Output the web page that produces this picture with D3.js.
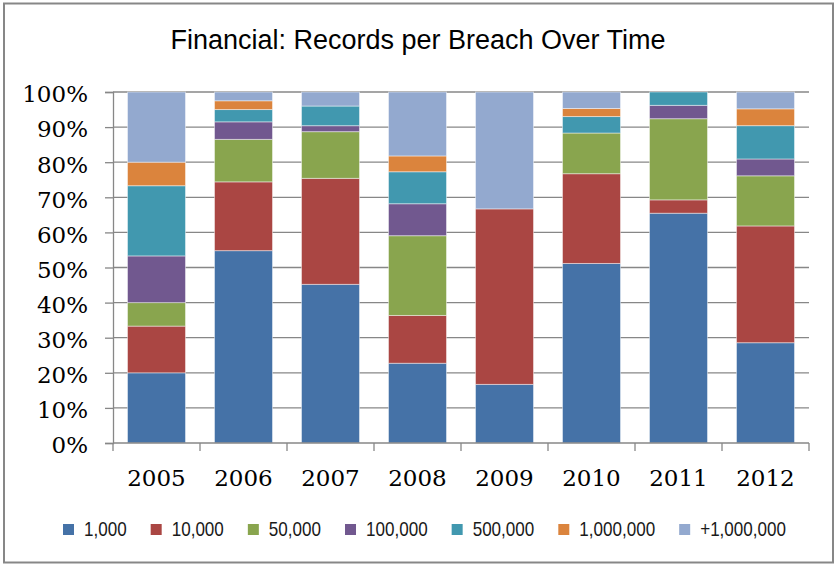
<!DOCTYPE html>
<meta charset="utf-8">
<script src="https://d3js.org/d3.v7.min.js"></script>
<style>
  body { margin: 0; background: #fff; }
</style>
<svg id="chart" width="838" height="564"></svg>
<script>

    // data: share of breaches per records bucket, percent per year
    const years = ["2005", "2006", "2007", "2008", "2009", "2010", "2011", "2012"];
    const buckets = ["1,000", "10,000", "50,000", "100,000", "500,000", "1,000,000", "+1,000,000"];
    const colors = ["#4572A7", "#AA4643", "#89A54E", "#71588F", "#4198AF", "#DB843D", "#93A9CF"];

    const r1k   = [20.0, 54.8, 45.2, 22.7, 16.7, 51.2, 65.4, 28.6];
    const r10k  = [13.3, 19.6, 30.2, 13.6, 50.0, 25.6,  3.8, 33.3];
    const r50k  = [ 6.7, 12.1, 13.3, 22.7,  0.0, 11.6, 23.1, 14.3];
    const r100k = [13.3,  5.0,  1.7,  9.1,  0.0,  0.0,  3.8,  4.8];
    const r500k = [20.0,  3.5,  5.6,  9.1,  0.0,  4.7,  3.8,  9.5];
    const r1m   = [ 6.7,  2.5,  0.0,  4.5,  0.0,  2.3,  0.0,  4.8];
    const rOver = [20.0,  2.5,  4.0, 18.2, 33.3,  4.7,  0.0,  4.8];

    const yTicks = [0, 0.1, 0.2, 0.3, 0.4, 0.5, 0.6, 0.7, 0.8, 0.9, 1];

    const series = [r1k, r10k, r50k, r100k, r500k, r1m, rOver];

    const rows = years.map((y, i) => {
        const row = { year: y };
        buckets.forEach((b, j) => row[b] = series[j][i]);
        return row;
    });

    const svg = d3.select("#chart"),
        width = +svg.attr("width"),
        height = +svg.attr("height");

    const plotLeft = 113, plotRight = 809, plotTop = 92, plotBottom = 443;
    const axisColor = "#878787";

    // chart border
    svg.append("rect")
        .attr("x", 4).attr("y", 3.5)
        .attr("width", 829).attr("height", 559)
        .attr("fill", "#fff")
        .attr("stroke", axisColor)
        .attr("stroke-width", 2);

    svg.append("text")
        .attr("x", 418).attr("y", 49)
        .attr("text-anchor", "middle")
        .style("font-family", "'Liberation Sans', Arial, sans-serif")
        .style("font-size", "27px")
        .attr("fill", "#000")
        .text("Financial: Records per Breach Over Time");

    const x = d3.scaleBand()
        .domain(years)
        .range([plotLeft, plotRight])
        .paddingInner(1 / 3)
        .paddingOuter(1 / 6);

    const y = d3.scaleLinear()
        .domain([0, 1])
        .range([plotBottom, plotTop]);

    // gridlines
    svg.append("g")
        .selectAll("line")
        .data(yTicks.slice(1))
        .enter().append("line")
            .attr("x1", plotLeft).attr("x2", plotRight)
            .attr("y1", d => y(d)).attr("y2", d => y(d))
            .attr("stroke", axisColor)
            .attr("stroke-width", 1.3);

    const stacked = d3.stack()
        .keys(buckets)
        .offset(d3.stackOffsetExpand)(rows);

    svg.append("g")
        .selectAll("g")
        .data(stacked)
        .enter().append("g")
            .attr("fill", (d, i) => colors[i])
        .selectAll("rect")
        .data(d => d.filter(p => p[1] - p[0] > 0))
        .enter().append("rect")
            .attr("x", d => x(d.data.year))
            .attr("width", x.bandwidth())
            .attr("y", d => y(d[1]))
            .attr("height", d => y(d[0]) - y(d[1]))
            .attr("stroke", "rgba(255,255,255,0.45)")
            .attr("stroke-width", 1);

    // y axis
    const yAxis = svg.append("g")
        .attr("transform", `translate(${plotLeft},0)`)
        .call(d3.axisLeft(y).tickValues(yTicks).tickFormat(d3.format(".0%")).tickSize(8).tickPadding(17));
    yAxis.select(".domain").attr("stroke", axisColor).attr("stroke-width", 1.3);
    yAxis.selectAll(".tick line").attr("stroke", axisColor).attr("stroke-width", 1.3);
    yAxis.selectAll(".tick text")
        .attr("dy", "0.43em")
        .style("font-family", "'DejaVu Serif', serif")
        .style("font-size", "23px")
        .attr("fill", "#000");

    // x axis, ticks between categories
    const xg = svg.append("g").attr("transform", `translate(0,${plotBottom})`);
    xg.append("line")
        .attr("x1", plotLeft).attr("x2", plotRight)
        .attr("stroke", axisColor).attr("stroke-width", 1.3);
    const step = x.step();
    xg.selectAll("line.tk")
        .data(d3.range(years.length + 1))
        .enter().append("line")
            .attr("class", "tk")
            .attr("x1", i => plotLeft + i * step).attr("x2", i => plotLeft + i * step)
            .attr("y1", 0).attr("y2", 8)
            .attr("stroke", axisColor).attr("stroke-width", 1.3);
    xg.selectAll("text")
        .data(years)
        .enter().append("text")
            .attr("x", d => x(d) + x.bandwidth() / 2)
            .attr("y", 43)
            .attr("text-anchor", "middle")
            .style("font-family", "'DejaVu Serif', serif")
            .style("font-size", "23px")
            .attr("fill", "#000")
            .text(d => d);

    // legend (narrow look: Liberation Sans squeezed horizontally)
    const squeeze = 0.82;
    const legend = svg.append("g");
    const items = legend.selectAll("g")
        .data(buckets)
        .enter().append("g");
    items.append("rect")
        .attr("width", 11).attr("height", 11)
        .attr("y", 524)
        .attr("fill", (d, i) => colors[i]);
    items.append("text")
        .attr("transform", `translate(21,535.5) scale(${squeeze},1)`)
        .style("font-family", "'Liberation Sans', Arial, sans-serif")
        .style("font-size", "20.8px")
        .attr("fill", "#1a1a1a")
        .text(d => d);

    let pos = 0;
    const offs = [];
    items.each(function() {
        offs.push(pos);
        const w = d3.select(this).select("text").node().getComputedTextLength() * squeeze;
        pos += 21 + w + 24;
    });
    const total = pos - 24;
    const start = 424.5 - total / 2;
    items.attr("transform", (d, i) => `translate(${start + offs[i]},0)`);

</script>
